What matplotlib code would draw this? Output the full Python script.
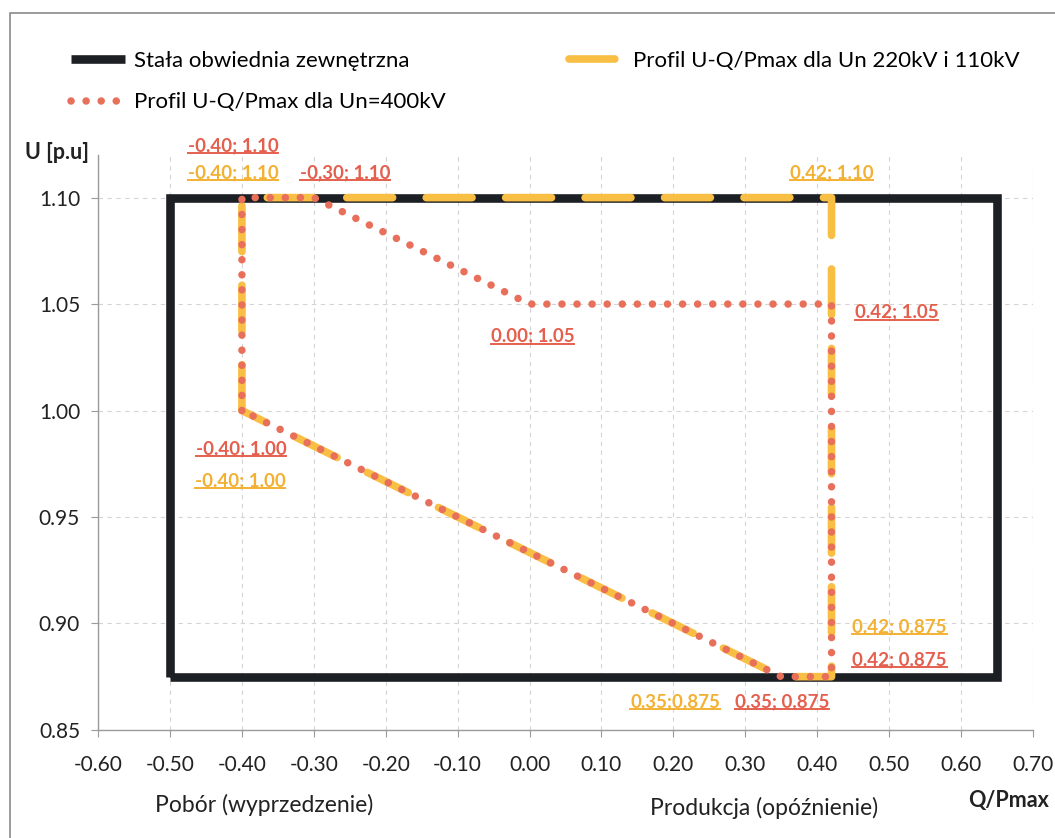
import matplotlib
matplotlib.use("Agg")
import matplotlib.pyplot as plt
from matplotlib.lines import Line2D
from matplotlib.patches import Rectangle
from matplotlib.transforms import IdentityTransform

plt.rcParams['font.family'] = ['Lato', 'DejaVu Sans']

# --- dane ---
obw_q = [-0.50, -0.50, 0.65, 0.65, -0.50]
obw_u = [0.875, 1.10, 1.10, 0.875, 0.875]

p220_q = [-0.40, -0.40, 0.42, 0.42, 0.35, -0.40]
p220_u = [1.00, 1.10, 1.10, 0.875, 0.875, 1.00]

p400_q = [-0.40, -0.40, -0.30, 0.00, 0.42, 0.42, 0.35, -0.40]
p400_u = [1.00, 1.10, 1.10, 1.05, 1.05, 0.875, 0.875, 1.00]

x_ticks = [-0.60, -0.50, -0.40, -0.30, -0.20, -0.10, 0.00, 0.10, 0.20, 0.30, 0.40, 0.50, 0.60, 0.70]
y_ticks = [0.85, 0.90, 0.95, 1.00, 1.05, 1.10]

# etykiety: (tekst, q, u, przesuniecie w px, seria)
etykiety = [
    ("-0.40; 1.10", -0.40, 1.10, (-9, 52), "r"),
    ("-0.40; 1.10", -0.40, 1.10, (-9, 25), "y"),
    ("-0,30; 1.10", -0.30, 1.10, (31, 25), "r"),
    ("0.42; 1.10", 0.42, 1.10, (0, 25), "y"),
    ("0.00; 1.05", 0.00, 1.05, (3, -32), "r"),
    ("0.42; 1.05", 0.42, 1.05, (65, -8), "r"),
    ("-0.40; 1.00", -0.40, 1.00, (-1, -38), "r"),
    ("-0.40; 1.00", -0.40, 1.00, (-2, -70), "y"),
    ("0.42; 0.875", 0.42, 0.875, (68, 50), "y"),
    ("0.42; 0.875", 0.42, 0.875, (68, 17), "r"),
    ("0.35;0.875", 0.35, 0.875, (-106, -25), "y"),
    ("0.35; 0.875", 0.35, 0.875, (1, -25), "r"),
]

BLACK = '#1c1f24'
YELLOW = '#f9bf45'
RED = '#e8705a'
RED_TXT = '#e45f4d'
YEL_TXT = '#f2b133'

fig = plt.figure(figsize=(10.55, 8.38), dpi=100)
ax = fig.add_axes([0.093, 0.129, 0.886, 0.686])

# ramka wykresu
fig.add_artist(Rectangle((10 / 1055, -0.05), 1.1, 1 - 13 / 838 + 0.05,
                         transform=fig.transFigure, fill=False,
                         edgecolor='#8a8a8a', lw=1.2))

ax.plot(obw_q, obw_u, color=BLACK, lw=6.2, solid_joinstyle='miter',
        solid_capstyle='butt', zorder=2, label='Stała obwiednia zewnętrzna')
ax.plot(p220_q, p220_u, color=YELLOW, lw=5.5, linestyle=(0, (6, 4.4)),
        dash_capstyle='round', dash_joinstyle='round', zorder=3,
        label='Profil U-Q/Pmax dla Un 220kV i 110kV')
ax.plot(p400_q, p400_u, color=RED, lw=5.4, linestyle=(0, (0.01, 2)),
        dash_capstyle='round', zorder=4, label='Profil U-Q/Pmax dla Un=400kV')

ax.set_xlim(-0.60, 0.70)
ax.set_ylim(0.85, 1.12)
ax.set_xticks(x_ticks)
ax.set_xticklabels([f"{v:.2f}" for v in x_ticks])
ax.set_yticks(y_ticks)
ax.set_yticklabels([f"{v:.2f}" for v in y_ticks])
ax.tick_params(labelsize=15, colors='#222222', length=5, width=0.8)
ax.tick_params(axis='x', color='#9a9a9a', pad=13)
ax.tick_params(axis='y', color='#9a9a9a', pad=8)
ax.grid(True, color='#d4d4d4', linestyle=(0, (4, 4)), lw=0.8)
ax.set_axisbelow(True)
for s in ['top', 'right']:
    ax.spines[s].set_visible(False)
for s in ['left', 'bottom']:
    ax.spines[s].set_color('#9a9a9a')
    ax.spines[s].set_linewidth(1.0)

h, l = ax.get_legend_handles_labels()
order = [0, 2, 1]
ax.legend([h[i] for i in order], [l[i] for i in order], ncol=2,
          loc='upper left', bbox_to_anchor=(-0.039, 1.197), frameon=False,
          fontsize=16, handlelength=2.45, handletextpad=0.42,
          columnspacing=5.55, labelspacing=0.98, borderaxespad=0)

fig.text(0.024, 0.818, "U [p.u]", fontsize=15.5, fontweight='bold', color='#222222',
         va='center')
fig.text(0.994, 0.045, "Q/Pmax", fontsize=15.5, fontweight='bold', color='#222222',
         ha='right', va='center')
fig.text(0.147, 0.039, "Pobór (wyprzedzenie)", fontsize=16.5, color='#222222', va='center')
fig.text(0.616, 0.036, "Produkcja (opóźnienie)", fontsize=16.5, color='#222222', va='center')

teksty = []
for txt, q, u, off, ser in etykiety:
    c = RED_TXT if ser == 'r' else YEL_TXT
    t = ax.annotate(txt, (q, u), xytext=off, textcoords='offset pixels',
                    ha='center', va='center', fontsize=13.5, fontweight='bold',
                    color=c, zorder=6)
    teksty.append(t)

# podkreslenie etykiet
fig.canvas.draw()
r = fig.canvas.get_renderer()
for t in teksty:
    bb = t.get_window_extent(r)
    yy = bb.y0 + 1
    fig.add_artist(Line2D([bb.x0, bb.x1], [yy, yy], transform=IdentityTransform(),
                          color=t.get_color(), lw=1.4))

fig.savefig("out.png", dpi=100)
